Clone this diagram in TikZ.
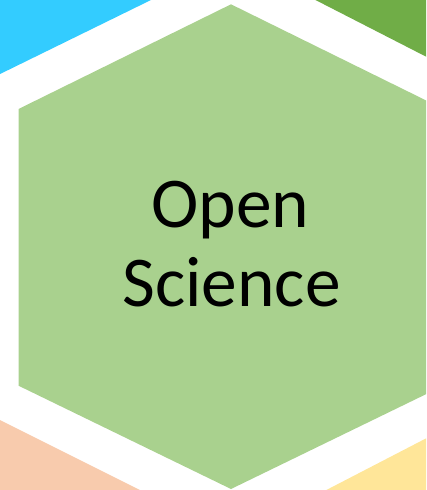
\documentclass[tikz,border=0pt]{standalone}
\usepackage{fontspec}
\setmainfont{Carlito}
\definecolor{hexgreen}{HTML}{A9D18E}
\definecolor{hexblue}{HTML}{33CCFF}
\definecolor{hexdark}{HTML}{70AD47}
\definecolor{hexorange}{HTML}{F8CBAD}
\definecolor{hexyellow}{HTML}{FFE699}
\tikzset{
  hexfill/.style={fill=#1, draw=none},
  bigtext/.style={font=\fontsize{71.4}{78}\selectfont, text=black, inner sep=0pt, anchor=base}
}
\begin{document}
\begin{tikzpicture}[x=1pt,y=-1pt]
\useasboundingbox (0,0) rectangle (426,490);
\clip (0,0) rectangle (426,490);
% neighbouring hexagons (partly visible)
\fill[hexfill=hexblue] (-5,-5) -- (-5,76.5) -- (161.2,-5) -- cycle;
\fill[hexfill=hexdark] (305.7,-5) -- (432,59.7) -- (432,-5) -- cycle;
\fill[hexfill=hexorange] (-5,417.5) -- (146,493) -- (-5,493) -- cycle;
\fill[hexfill=hexyellow] (316.7,495) -- (432,435.3) -- (432,495) -- cycle;
% central hexagon
\fill[hexfill=hexgreen] (231,4.3) -- (443.5,109) -- (443.5,385.7) -- (231,489) -- (18.5,385.7) -- (18.5,109) -- cycle;
\node[bigtext] (open) at (230.5,227.5) {Open};
\node[bigtext] (science) at (231.5,306) {Science};
\end{tikzpicture}
\end{document}
